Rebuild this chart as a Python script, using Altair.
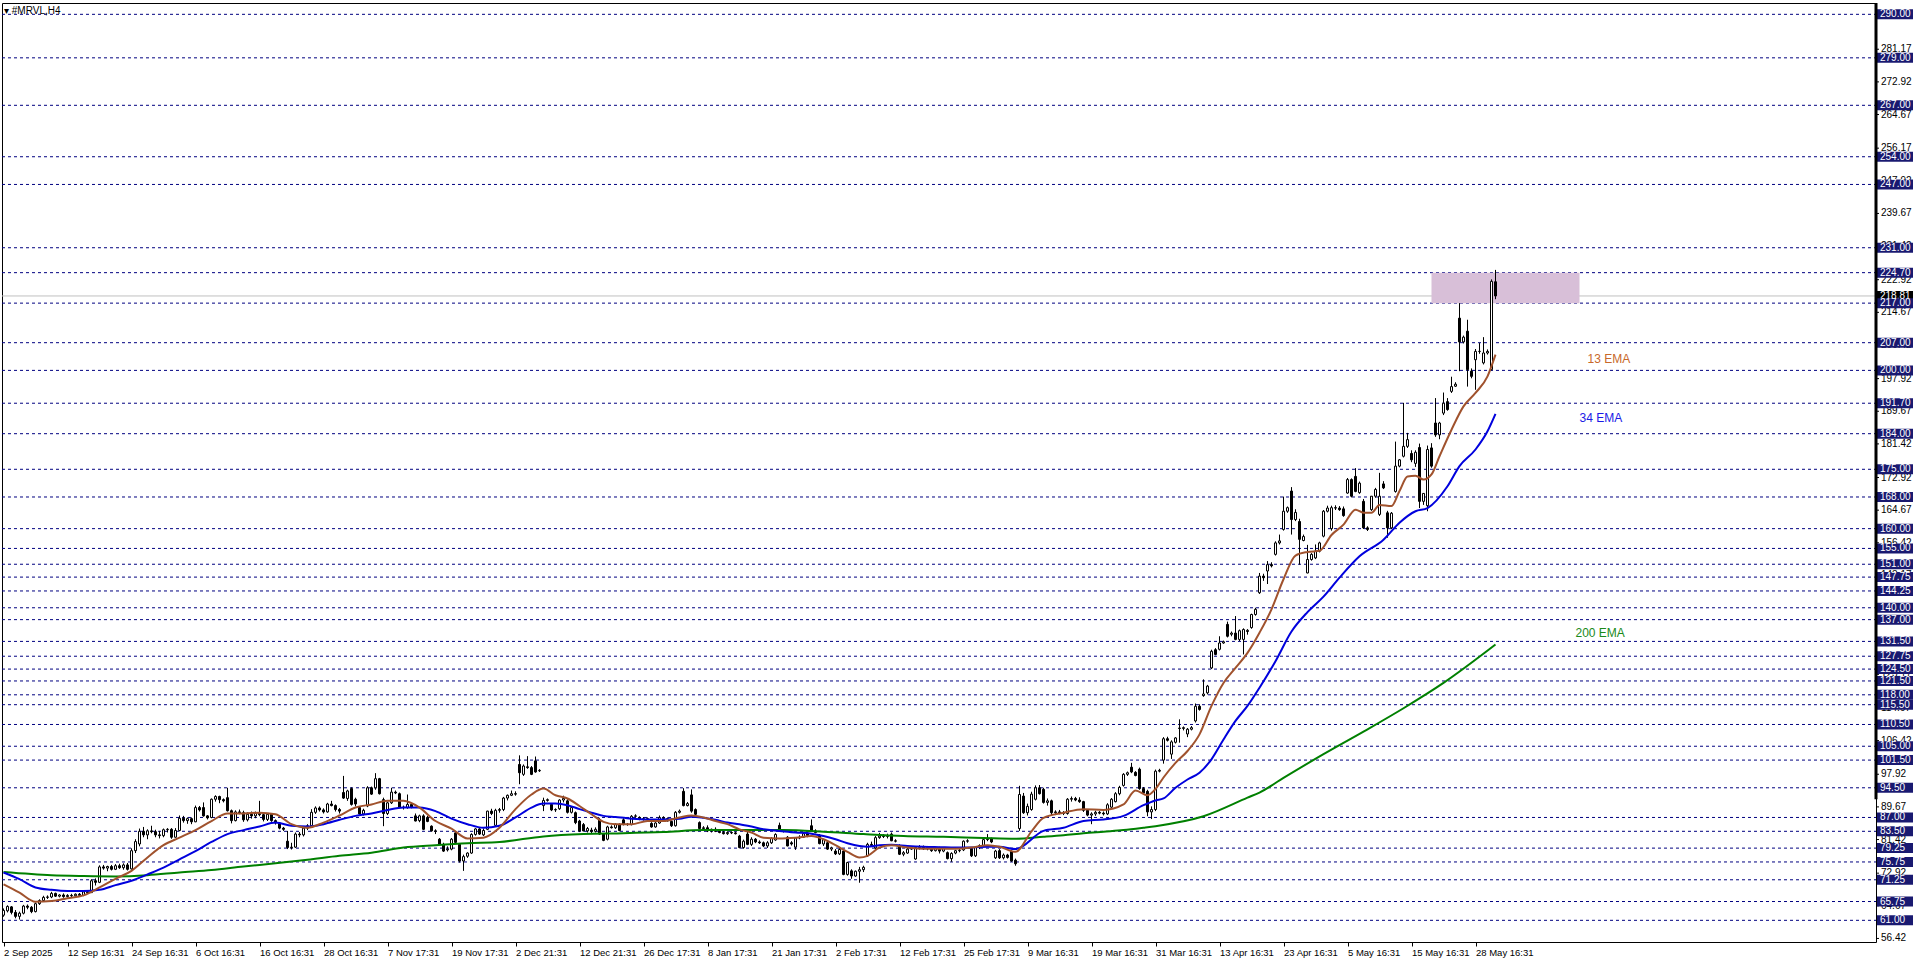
import json
import altair as alt
import pandas as pd

# ---------------- candle data (H4 bars) ----------------
opens = [
    62.3, 63.4, 64.4, 63.0, 62.0, 62.8, 64.6, 64.3, 63.2, 65.2,
    66.0, 66.8, 66.9, 67.8, 67.1, 67.4, 67.0, 67.3, 67.2, 67.6,
    67.3, 68.2, 68.0, 71.0, 70.6, 74.5, 74.2, 74.6, 73.9, 74.8,
    74.3, 75.0, 74.0, 78.6, 80.3, 83.5, 82.6, 83.6, 83.4, 82.6,
    82.4, 83.9, 84.0, 82.0, 83.7, 86.8, 86.2, 86.7, 85.9, 89.5,
    89.5, 87.4, 87.0, 91.6, 92.3, 91.5, 92.0, 88.7, 86.2, 88.4,
    88.2, 86.4, 87.8, 87.4, 88.0, 87.7, 86.5, 87.8, 86.2, 85.6,
    84.3, 81.0, 79.4, 79.5, 82.8, 82.6, 84.3, 84.9, 88.3, 89.4,
    88.9, 88.4, 90.4, 90.0, 89.0, 93.3, 91.8, 94.3, 91.6, 89.5,
    87.9, 89.9, 94.5, 94.5, 96.8, 91.5, 88.0, 90.7, 93.4, 93.0,
    89.6, 89.5, 90.3, 87.4, 86.2, 87.4, 87.0, 84.8, 83.6, 81.5,
    80.2, 78.8, 79.0, 83.1, 80.2, 76.0, 77.2, 78.0, 82.7, 84.1,
    82.6, 84.0, 88.6, 85.0, 88.8, 89.0, 91.9, 92.6, 93.0, 100.4,
    97.9, 99.8, 99.6, 101.3, 98.8, 90.0, 91.3, 90.3, 88.9, 89.2,
    91.4, 91.2, 88.3, 88.2, 86.1, 85.2, 83.6, 83.8, 83.5, 86.5,
    82.8, 81.5, 84.6, 84.4, 85.2, 86.4, 85.2, 85.2, 87.3, 87.0,
    86.5, 86.7, 85.5, 84.6, 85.6, 87.0, 86.7, 86.0, 84.9, 88.3,
    93.6, 90.0, 92.7, 89.0, 85.7, 84.2, 84.4, 83.6, 84.0, 83.5,
    83.2, 82.9, 83.2, 83.1, 82.3, 79.4, 82.8, 80.2, 81.5, 80.8,
    80.6, 79.8, 80.6, 81.3, 85.0, 83.7, 82.0, 80.6, 79.5, 81.8,
    82.0, 82.9, 84.9, 83.6, 82.5, 80.3, 80.6, 79.0, 78.5, 77.8,
    78.5, 72.6, 73.5, 72.2, 73.4, 73.8, 77.3, 80.2, 79.3, 81.9,
    82.3, 82.2, 82.8, 81.1, 79.8, 77.7, 78.0, 79.0, 76.5, 79.4,
    79.6, 79.1, 79.0, 78.6, 79.3, 78.5, 78.1, 76.6, 78.0, 78.6,
    78.8, 81.0, 79.2, 77.3, 79.4, 79.8, 81.4, 81.6, 76.8, 78.6,
    76.8, 77.5, 78.4, 76.2, 84.2, 92.4, 88.2, 89.0, 91.6, 94.5,
    94.1, 90.8, 91.2, 88.2, 88.4, 88.1, 88.0, 91.6, 91.8, 91.4,
    91.0, 88.8, 87.6, 87.9, 88.3, 88.1, 87.9, 89.6, 91.0, 93.0,
    95.1, 97.9, 99.7, 98.4, 99.2, 94.3, 93.6, 88.4, 89.0, 98.7,
    101.5, 106.9, 103.0, 106.0, 109.6, 109.5, 108.1, 109.3, 111.4, 115.1,
    117.8, 118.5, 124.8, 129.4, 129.5, 131.1, 135.8, 133.3, 133.6, 132.0,
    132.0, 134.0, 135.0, 138.3, 143.8, 148.0, 149.3, 150.9, 153.5, 156.4,
    159.8, 164.4, 169.5, 162.3, 161.8, 157.0, 148.8, 152.2, 152.6, 154.3,
    158.1, 164.4, 160.0, 165.3, 165.2, 165.0, 169.0, 172.4, 173.2, 169.1,
    166.9, 160.2, 164.8, 168.2, 163.6, 171.3, 164.0, 160.2, 169.4, 175.8,
    178.3, 180.8, 179.0, 176.5, 180.5, 166.9, 165.8, 180.4, 186.7, 183.7,
    189.2, 192.1, 194.7, 196.0, 213.2, 207.2, 209.9, 199.8, 202.7, 204.8,
    201.9, 204.4, 200.2, 222.4,
]
highs = [
    64.0, 64.8, 64.6, 63.6, 63.2, 64.9, 65.0, 64.6, 65.5, 66.3,
    67.2, 67.3, 68.2, 68.0, 67.6, 67.8, 67.6, 67.7, 67.8, 67.9,
    68.5, 68.6, 71.4, 71.6, 74.9, 75.0, 74.8, 75.0, 75.2, 75.3,
    75.4, 75.5, 79.2, 81.5, 84.2, 84.6, 84.0, 84.9, 83.9, 83.6,
    84.2, 84.3, 84.3, 84.3, 87.5, 87.4, 87.0, 87.0, 90.0, 89.9,
    90.8, 87.6, 91.8, 92.6, 92.5, 91.8, 94.5, 89.0, 88.8, 89.0,
    88.7, 88.3, 88.5, 88.5, 91.2, 88.3, 88.0, 88.0, 86.5, 85.8,
    84.6, 83.6, 80.6, 83.2, 83.3, 84.6, 85.3, 89.1, 89.8, 89.8,
    89.3, 90.7, 91.2, 90.3, 89.4, 97.5, 94.0, 94.6, 92.0, 89.8,
    89.2, 94.9, 94.8, 98.2, 97.0, 92.0, 91.0, 94.5, 93.8, 93.3,
    90.0, 92.8, 90.6, 88.0, 87.7, 87.8, 87.4, 85.0, 84.0, 81.8,
    80.6, 79.7, 81.8, 83.6, 80.5, 77.6, 78.2, 83.0, 84.3, 84.3,
    84.2, 88.7, 89.2, 89.2, 89.4, 92.2, 92.8, 93.8, 93.6, 102.7,
    100.4, 102.5, 100.0, 102.4, 99.2, 92.0, 91.8, 90.6, 89.3, 91.6,
    92.5, 91.6, 89.7, 88.5, 86.4, 85.6, 84.6, 84.4, 84.5, 86.9,
    83.0, 84.9, 85.0, 85.5, 85.5, 86.8, 85.6, 87.6, 87.8, 87.3,
    87.1, 87.0, 85.8, 85.8, 87.5, 87.3, 87.0, 86.2, 88.6, 89.0,
    94.4, 90.9, 94.1, 89.3, 86.0, 84.8, 85.0, 84.2, 84.5, 84.0,
    83.6, 83.5, 83.5, 83.4, 82.6, 81.4, 83.6, 82.0, 81.8, 81.2,
    80.9, 81.0, 82.0, 83.0, 85.7, 84.0, 82.3, 81.0, 82.0, 82.5,
    83.2, 83.0, 86.5, 84.0, 82.8, 81.6, 81.0, 79.6, 79.0, 79.3,
    78.9, 75.8, 73.9, 73.6, 74.5, 74.8, 80.6, 80.9, 82.3, 83.1,
    82.8, 82.9, 83.2, 81.5, 80.2, 78.5, 79.4, 79.5, 79.6, 80.0,
    79.9, 79.8, 79.3, 79.6, 79.6, 79.5, 78.4, 78.2, 78.8, 79.1,
    81.2, 81.5, 79.5, 79.7, 80.2, 81.6, 82.8, 81.9, 78.8, 79.0,
    77.9, 77.8, 78.7, 76.6, 95.0, 93.2, 90.5, 93.5, 95.1, 95.2,
    94.5, 91.8, 91.5, 88.8, 88.9, 88.6, 91.9, 92.3, 92.2, 92.1,
    91.2, 89.0, 88.3, 88.7, 88.6, 88.5, 90.6, 91.9, 93.4, 95.0,
    98.2, 98.6, 100.8, 98.7, 99.6, 94.7, 94.0, 89.8, 99.1, 99.3,
    107.3, 107.4, 106.5, 107.3, 111.8, 110.0, 109.6, 110.1, 115.8, 115.6,
    121.9, 120.5, 129.4, 129.8, 132.8, 131.7, 136.5, 134.0, 137.9, 134.5,
    134.8, 134.6, 138.5, 140.0, 148.8, 148.6, 151.8, 151.5, 156.8, 158.5,
    168.1, 165.6, 170.5, 164.9, 162.5, 158.5, 155.9, 153.8, 156.0, 156.7,
    164.7, 165.8, 165.8, 165.9, 165.7, 165.6, 172.8, 172.7, 175.3, 171.9,
    167.5, 160.6, 168.2, 170.3, 174.1, 172.0, 164.5, 164.2, 182.0, 177.6,
    191.8, 184.2, 179.8, 179.8, 181.5, 169.0, 181.0, 181.6, 193.0, 187.0,
    194.4, 193.0, 198.4, 197.0, 217.0, 208.8, 212.8, 200.5, 205.4, 206.9,
    208.4, 205.3, 223.0, 225.4,
]
lows = [
    61.9, 63.0, 62.5, 61.5, 61.2, 62.5, 63.8, 62.8, 63.0, 64.9,
    65.7, 66.4, 66.6, 66.9, 66.8, 66.7, 66.8, 66.9, 66.9, 67.0,
    67.1, 67.8, 67.9, 69.8, 70.4, 73.8, 73.4, 73.6, 73.7, 74.0,
    73.8, 73.6, 73.8, 78.0, 79.7, 82.0, 81.5, 83.0, 82.0, 81.7,
    82.0, 83.2, 81.6, 81.9, 83.5, 85.7, 85.4, 85.3, 85.8, 88.5,
    87.2, 86.5, 86.8, 91.0, 90.6, 90.8, 88.5, 85.5, 86.0, 87.8,
    85.9, 86.0, 86.7, 86.8, 87.3, 86.0, 86.1, 85.9, 85.2, 84.0,
    83.6, 79.0, 78.9, 79.3, 82.0, 82.2, 83.8, 84.6, 87.9, 88.5,
    88.0, 88.2, 89.8, 88.5, 88.0, 91.7, 91.2, 90.0, 89.8, 87.5,
    87.5, 89.6, 92.7, 94.0, 92.8, 84.8, 87.6, 90.4, 92.9, 89.5,
    89.0, 89.2, 89.3, 86.0, 85.8, 83.8, 85.8, 83.4, 82.8, 80.1,
    78.3, 78.4, 78.7, 80.5, 75.6, 73.5, 76.8, 77.8, 82.4, 82.6,
    82.3, 83.8, 87.6, 84.8, 88.2, 88.6, 91.3, 92.4, 92.5, 95.4,
    97.5, 99.3, 97.7, 98.3, 98.5, 88.6, 91.0, 88.6, 88.4, 88.9,
    90.8, 88.0, 88.0, 85.3, 83.3, 83.5, 83.2, 83.0, 83.2, 82.6,
    81.0, 81.2, 84.2, 84.1, 83.5, 85.0, 84.9, 85.0, 86.9, 86.3,
    86.2, 86.2, 84.4, 84.4, 85.4, 86.5, 86.0, 84.6, 84.7, 88.0,
    89.8, 89.8, 88.2, 87.6, 84.0, 83.9, 83.3, 83.2, 83.3, 83.0,
    82.7, 82.6, 82.8, 82.7, 79.2, 79.1, 80.0, 79.8, 80.5, 80.3,
    79.5, 79.3, 80.3, 81.1, 83.4, 83.2, 79.7, 79.9, 78.8, 81.5,
    81.8, 82.0, 83.4, 83.0, 80.2, 79.8, 78.8, 78.5, 77.5, 77.5,
    72.4, 72.3, 71.5, 72.0, 70.5, 73.2, 77.0, 79.6, 79.0, 81.6,
    81.8, 81.7, 81.0, 80.7, 77.5, 77.2, 77.8, 78.8, 76.3, 78.9,
    78.8, 78.7, 78.3, 78.4, 77.9, 78.2, 76.4, 75.8, 77.7, 78.2,
    78.5, 80.6, 77.0, 77.0, 79.0, 79.5, 81.0, 80.5, 76.5, 76.5,
    76.4, 76.6, 75.8, 74.8, 83.6, 87.9, 87.5, 88.7, 91.3, 92.8,
    90.5, 90.0, 87.6, 87.6, 87.8, 87.6, 87.7, 91.0, 91.1, 90.7,
    88.4, 87.3, 85.3, 87.4, 87.8, 87.5, 87.6, 89.4, 90.8, 92.6,
    94.8, 97.5, 98.2, 97.4, 94.0, 92.9, 87.3, 86.6, 88.6, 98.4,
    100.6, 106.2, 101.8, 105.7, 105.9, 109.0, 107.3, 109.0, 111.0, 114.0,
    117.5, 118.1, 124.5, 128.0, 129.2, 130.9, 132.5, 132.8, 131.8, 131.6,
    128.2, 133.2, 134.7, 138.0, 143.5, 146.8, 146.0, 150.2, 153.2, 156.0,
    159.5, 164.0, 158.5, 161.9, 150.9, 156.8, 148.7, 151.9, 152.3, 154.0,
    157.8, 164.1, 159.5, 164.7, 164.5, 163.0, 168.8, 167.9, 169.2, 168.8,
    159.9, 159.4, 164.5, 167.8, 163.2, 170.0, 157.7, 159.9, 169.1, 175.5,
    178.0, 180.4, 176.8, 175.6, 165.2, 166.0, 164.4, 175.4, 183.2, 182.6,
    188.7, 189.8, 194.3, 195.8, 199.8, 206.8, 195.9, 198.0, 195.1, 204.2,
    201.5, 204.0, 200.0, 218.0,
]
closes = [
    63.5, 64.5, 63.0, 62.0, 62.8, 64.6, 64.3, 63.2, 65.2, 66.0,
    66.8, 66.9, 67.8, 67.1, 67.4, 67.0, 67.3, 67.2, 67.6, 67.3,
    68.2, 68.0, 71.0, 70.6, 74.5, 74.2, 74.6, 73.9, 74.8, 74.3,
    75.0, 73.9, 78.6, 80.9, 83.5, 82.6, 83.6, 83.4, 82.6, 82.4,
    83.9, 84.0, 82.0, 83.7, 86.8, 86.2, 86.7, 85.9, 89.5, 88.9,
    87.4, 86.9, 91.6, 92.3, 91.5, 91.2, 88.7, 86.2, 88.4, 88.2,
    86.4, 87.8, 87.4, 88.0, 87.7, 86.5, 87.8, 86.2, 85.6, 84.3,
    84.0, 79.4, 79.5, 82.8, 82.6, 84.3, 84.9, 88.3, 89.4, 88.9,
    88.4, 90.4, 90.0, 89.0, 88.6, 91.9, 93.7, 90.3, 90.4, 87.9,
    88.8, 94.5, 92.9, 96.8, 93.0, 88.0, 90.7, 93.4, 93.2, 89.6,
    89.5, 90.3, 89.6, 86.1, 87.4, 84.0, 86.0, 83.6, 83.5, 80.2,
    78.5, 79.0, 81.5, 80.7, 76.0, 77.1, 78.0, 82.7, 84.1, 82.8,
    83.7, 88.6, 88.0, 88.8, 89.0, 91.9, 92.6, 93.0, 92.9, 98.3,
    100.0, 99.6, 97.9, 98.5, 98.9, 91.3, 91.5, 88.9, 89.0, 91.4,
    91.8, 88.3, 89.5, 85.7, 83.6, 83.6, 84.2, 83.5, 84.0, 82.8,
    81.2, 84.6, 84.4, 85.3, 83.7, 85.2, 85.3, 87.3, 87.4, 86.5,
    86.7, 86.4, 84.6, 85.6, 87.0, 86.7, 86.1, 84.9, 88.3, 88.6,
    90.0, 90.5, 88.6, 87.8, 84.2, 84.4, 83.6, 84.0, 83.5, 83.2,
    82.9, 83.2, 83.1, 82.9, 79.4, 81.0, 80.2, 81.5, 80.8, 80.6,
    79.8, 80.6, 81.7, 82.7, 83.7, 83.5, 79.8, 80.3, 81.8, 82.0,
    82.9, 82.4, 83.6, 83.2, 80.4, 81.4, 79.0, 79.3, 77.8, 78.9,
    72.6, 75.6, 72.2, 73.4, 73.8, 74.4, 80.2, 79.9, 81.9, 82.3,
    82.2, 82.4, 81.1, 81.0, 77.7, 78.1, 79.0, 79.2, 79.4, 79.6,
    79.1, 79.4, 78.6, 79.3, 78.5, 79.2, 76.6, 77.9, 78.6, 78.7,
    81.0, 81.1, 77.3, 79.4, 79.9, 81.4, 81.6, 80.8, 78.5, 76.8,
    77.5, 76.9, 76.0, 75.3, 92.8, 88.2, 89.8, 92.9, 94.5, 93.0,
    90.8, 91.2, 88.2, 88.4, 88.1, 88.0, 91.6, 91.8, 91.4, 91.0,
    88.8, 87.6, 87.9, 88.3, 88.1, 87.9, 90.2, 91.6, 93.0, 94.6,
    97.9, 98.3, 98.5, 97.6, 94.3, 93.2, 88.4, 89.0, 98.7, 98.9,
    106.9, 106.5, 106.1, 107.1, 109.5, 109.7, 109.3, 109.7, 115.1, 114.3,
    118.2, 120.2, 129.0, 128.2, 131.1, 131.4, 132.8, 133.6, 132.0, 134.2,
    134.5, 134.3, 138.3, 139.6, 148.0, 147.6, 150.9, 150.6, 156.4, 156.9,
    164.4, 165.3, 162.3, 164.1, 157.3, 158.0, 152.2, 153.5, 154.3, 156.4,
    164.4, 165.2, 165.3, 165.2, 164.8, 163.3, 172.4, 168.2, 169.4, 171.5,
    160.2, 159.8, 168.2, 169.9, 168.2, 170.3, 160.2, 163.9, 175.8, 177.4,
    180.8, 182.5, 177.4, 179.3, 166.9, 168.9, 180.0, 175.8, 183.7, 186.7,
    191.7, 190.1, 195.9, 196.5, 207.2, 208.4, 200.2, 198.5, 204.8, 204.8,
    204.4, 204.8, 222.5, 218.81,
]

# ---------------- moving averages ----------------
ema13_idx = [0, 4, 8, 12, 16, 20, 24, 28, 32, 36, 40, 44, 48, 52, 56, 60, 64, 68, 72, 76,
             80, 84, 88, 92, 96, 100, 104, 108, 112, 116, 120, 124,
             128, 132, 135, 138, 141, 144, 147, 150, 153, 157, 161, 165, 169, 172, 175, 178,
             181, 184, 187, 190, 194, 198, 202, 205, 208, 211, 214, 216, 219, 222, 226, 230,
             234, 238, 242, 246, 249,
             253, 257, 260, 265, 270, 275, 280, 283, 286, 288, 290, 293, 296, 299, 302, 305,
             308, 311, 314, 317, 320, 323, 326, 329, 332, 335, 338, 340, 342, 344, 347, 349,
             351, 353, 355, 357, 359, 362, 365, 368, 371, 373]
ema13_val = [70.1, 68.0, 65.7, 65.9, 66.6, 67.3, 69.3, 71.5, 73.5, 76.9, 80.0, 81.9, 83.8, 86.1,
             88.0, 88.0, 88.2, 87.8, 85.3, 84.4, 85.7, 87.5, 89.5, 90.3, 91.2, 91.2, 89.5, 86.1,
             84.2, 81.7, 81.9, 84.4,
             89.1, 92.8, 94.3, 92.6, 91.8, 89.9, 87.8, 85.9, 85.3, 85.3, 86.1, 86.1, 87.0, 87.5,
             87.0, 86.1, 85.3, 84.0, 83.2, 81.9, 81.7, 81.9, 82.3, 81.5, 80.0, 78.3, 76.9, 77.3,
             79.4, 80.0, 79.4, 79.1, 79.1, 79.1, 79.4, 80.0, 79.6,
             78.3, 83.5, 86.9, 88.2, 89.1, 88.9, 90.3, 93.8, 92.6, 94.2, 97.1, 100.8, 103.8,
             108.0, 115.2, 121.0, 124.8, 128.6, 133.7, 139.6, 147.2, 153.2, 154.1, 154.4, 158.4,
             161.0, 164.8, 164.0, 164.0, 166.0, 165.7, 169.5, 173.2, 173.4, 172.4, 173.7, 178.3,
             185.0, 190.9, 194.3, 198.5, 204.0]

ema34_idx = [0, 4, 8, 12, 16, 20, 24, 28, 32, 36, 40, 44, 48, 52, 56, 60, 64, 68, 72, 76,
             80, 84, 88, 92, 96, 100, 104, 108, 112, 116, 120, 124,
             128, 132, 135, 138, 141, 144, 147, 150, 153, 157, 161, 165, 169, 172, 175, 178,
             181, 184, 187, 190, 194, 198, 202, 205, 208, 211, 214, 216, 219, 222, 226, 230,
             234, 238, 242, 246, 249,
             253, 260, 265, 270, 275, 280, 285, 288, 290, 293, 296, 299, 302, 305, 308, 311,
             314, 318, 322, 326, 330, 334, 339, 345, 349, 353, 356, 361, 364, 368, 371, 373]
ema34_val = [73.1, 71.4, 69.3, 68.7, 68.4, 68.4, 68.7, 69.9, 71.0, 72.6, 74.3, 76.4, 78.5, 80.8,
             82.8, 83.8, 84.7, 85.7, 84.9, 84.7, 85.3, 86.4, 87.4, 88.0, 88.9, 89.5, 89.5, 88.6,
             86.7, 85.3, 84.4, 84.9,
             87.0, 89.5, 90.5, 90.5, 90.1, 89.1, 88.2, 87.4, 87.1, 86.7, 86.5, 86.5, 86.7, 87.2,
             86.9, 86.4, 85.7, 85.3, 84.7, 84.0, 83.6, 83.2, 82.9, 82.3, 81.5, 80.5, 79.8, 79.6,
             80.0, 80.1, 79.8, 79.6, 79.5, 79.4, 79.4, 79.6, 79.6,
             79.0, 83.6, 84.4, 86.1, 86.5, 87.4, 90.1, 91.3, 91.8, 94.5, 96.6, 98.3, 101.7,
             106.7, 111.4, 115.2, 119.8, 126.5, 134.0, 138.9, 142.8, 147.6, 153.0, 157.2, 161.5,
             164.4, 165.2, 170.7, 175.8, 180.0, 184.6, 189.0]

ema200_idx = [0, 12, 20, 28, 36, 44, 52, 60, 68, 76, 84, 92, 100, 108, 116, 124, 135, 145, 155,
              165, 175, 185, 195, 205, 215, 225, 235, 245, 253, 260, 265, 270, 275, 280, 285,
              288, 300, 311, 314, 320, 330, 340, 350, 360, 373]
ema200_val = [73.2, 72.4, 72.2, 72.1, 72.4, 73.1, 73.7, 74.6, 75.4, 76.3, 77.3, 78.1, 79.4, 80.0,
              80.5, 80.8, 82.2, 82.8, 83.0, 83.3, 83.8, 83.8, 83.8, 83.4, 82.8, 82.3, 82.1, 81.8,
              81.6, 82.1, 82.5, 83.0, 83.4, 83.8, 84.4, 84.8, 87.3, 92.0, 93.3, 97.0, 103.0,
              108.7, 114.6, 121.0, 130.7]

# ---------------- levels, labels, annotations ----------------
level_prices = [290.00, 279.00, 267.00, 254.00, 247.00, 231.00, 224.70, 217.00, 207.00, 200.00,
                191.70, 184.00, 175.00, 168.00, 160.00, 155.00, 151.00, 147.75, 144.25, 140.00,
                137.00, 131.50, 127.75, 124.50, 121.50, 118.00, 115.50, 110.50, 105.00, 101.50,
                94.50, 87.00, 83.50, 79.25, 75.75, 71.25, 65.75, 61.00]
axis_ticks = [281.17, 272.92, 264.67, 256.17, 247.92, 239.67, 231.42, 222.92, 214.67, 206.42,
              197.92, 189.67, 181.42, 172.92, 164.67, 156.42, 148.17, 139.67, 131.42, 123.17,
              114.67, 106.42, 97.92, 89.67, 81.42, 72.92, 64.67, 56.42]
current_price = 218.81
date_labels = ["2 Sep 2025", "12 Sep 16:31", "24 Sep 16:31", "6 Oct 16:31", "16 Oct 16:31",
               "28 Oct 16:31", "7 Nov 17:31", "19 Nov 17:31", "2 Dec 21:31", "12 Dec 21:31",
               "26 Dec 17:31", "8 Jan 17:31", "21 Jan 17:31", "2 Feb 17:31", "12 Feb 17:31",
               "25 Feb 17:31", "9 Mar 16:31", "19 Mar 16:31", "31 Mar 16:31", "13 Apr 16:31",
               "23 Apr 16:31", "5 May 16:31", "15 May 16:31", "28 May 16:31"]
bars_per_label = 16
zone_bars = [357, 394]
zone_prices = [217.0, 224.7]
ema_labels = ["13 EMA", "34 EMA", "200 EMA"]
ema_label_bar = [396, 394, 393]
ema_label_price = [202.9, 188.0, 133.7]
ema_label_color = ["#c8682a", "#1a1ae6", "#1a8a1a"]
title_text = "\u25be #MRVL,H4"

FONT = "Liberation Sans"
W, H = 1874, 939
xs = alt.Scale(domain=[-0.375, 468.125], nice=False, zero=False)
ys = alt.Scale(domain=[55.52, 292.86], nice=False, zero=False)

df = pd.DataFrame({"i": list(range(len(closes))), "o": opens, "h": highs, "l": lows, "c": closes})
df["bull"] = df["c"] >= df["o"]
df["bt"] = df[["o", "c"]].max(axis=1)
df["bb"] = df[["o", "c"]].min(axis=1)
df["h"] = df[["h", "bt"]].max(axis=1)
df["l"] = df[["l", "bb"]].min(axis=1)

tick_idx = [bars_per_label * k for k in range(len(date_labels))]
label_expr = json.dumps(date_labels) + "[round(datum.value/" + str(bars_per_label) + ")]"

XA = alt.Axis(values=tick_idx, labelExpr=label_expr, tickSize=4, tickColor="black",
              labelAlign="left", labelBaseline="top", labelPadding=1,
              labelFont=FONT, labelFontSize=9.5, labelColor="black", domain=False,
              grid=False, title=None, labelOverlap=False, labelFlush=False, labelBound=False)


def X(field):
    return alt.X(field, scale=xs, axis=XA)


def Y(field):
    return alt.Y(field, scale=ys, axis=None)


lvl = pd.DataFrame({"p": level_prices, "lab": ["%.2f" % v for v in level_prices]})
cur = pd.DataFrame({"p": [current_price], "lab": ["%.2f" % current_price]})
ticks = pd.DataFrame({"p": axis_ticks, "lab": ["%.2f" % v for v in axis_ticks]})

level_lines = alt.Chart(lvl).mark_rule(color="#000080", strokeDash=[3, 3], strokeWidth=1).encode(
    y=Y("p:Q"), x=alt.value(0), x2=alt.value(W))

cur_line = alt.Chart(cur).mark_rule(color="#c0c0c0", strokeWidth=1).encode(
    y=Y("p:Q"), x=alt.value(0), x2=alt.value(W))

zone = alt.Chart(pd.DataFrame({"x1": [zone_bars[0]], "x2": [zone_bars[1]],
                               "y1": [zone_prices[0]], "y2": [zone_prices[1]]})).mark_rect(
    color="#d8bfd8").encode(x=X("x1:Q"), x2="x2:Q", y=Y("y1:Q"), y2="y2:Q")

wicks = alt.Chart(df).mark_rule(color="black", strokeWidth=1).encode(
    x=X("i:Q"), y=Y("l:Q"), y2="h:Q")

bodies = alt.Chart(df).transform_calculate(
    xl="datum.i - 0.25", xr="datum.i + 0.25").mark_rect(stroke="black", strokeWidth=1).encode(
    x=X("xl:Q"), x2="xr:Q", y=Y("bb:Q"), y2="bt:Q",
    fill=alt.condition("datum.bull", alt.value("white"), alt.value("black")))


def ema_layer(ix, vals, color):
    d = pd.DataFrame({"i": ix, "v": vals})
    return alt.Chart(d).mark_line(color=color, strokeWidth=2, interpolate="monotone").encode(
        x=X("i:Q"), y=Y("v:Q"))


e200 = ema_layer(ema200_idx, ema200_val, "#008000")
e34 = ema_layer(ema34_idx, ema34_val, "#0000dd")
e13 = ema_layer(ema13_idx, ema13_val, "#a0522d")

lab_df = pd.DataFrame({"t": ema_labels, "i": ema_label_bar, "p": ema_label_price,
                       "col": ema_label_color})
ema_text = alt.Chart(lab_df).mark_text(align="left", baseline="middle", font=FONT,
                                       fontSize=12).encode(
    x=X("i:Q"), y=Y("p:Q"), text="t:N", color=alt.Color("col:N", scale=None, legend=None))

# right price scale: plain labels first, highlighted level boxes drawn over them
tick_marks = alt.Chart(ticks).mark_rule(color="black", strokeWidth=1).encode(
    y=Y("p:Q"), x=alt.value(W), x2=alt.value(W + 3))
tick_txt = alt.Chart(ticks).mark_text(align="left", baseline="middle", color="black", font=FONT,
                                      fontSize=10).encode(
    y=Y("p:Q"), x=alt.value(W + 5), text="lab:N")

cur_box = alt.Chart(cur).mark_rule(color="black", strokeWidth=10).encode(
    y=Y("p:Q"), x=alt.value(W + 1), x2=alt.value(W + 37))
cur_txt = alt.Chart(cur).mark_text(align="left", baseline="middle", color="white", font=FONT,
                                   fontSize=10).encode(
    y=Y("p:Q"), x=alt.value(W + 4), text="lab:N")

lvl_box = alt.Chart(lvl).mark_rule(color="#191970", strokeWidth=10).encode(
    y=Y("p:Q"), x=alt.value(W + 1), x2=alt.value(W + 37))
lvl_txt = alt.Chart(lvl).mark_text(align="left", baseline="middle", color="white", font=FONT,
                                   fontSize=10).encode(
    y=Y("p:Q"), x=alt.value(W + 4), text="lab:N")

edge = alt.Chart(pd.DataFrame({"top": [292.86], "bottom": [91.6]})).mark_rule(
    color="black", strokeWidth=3).encode(y=Y("top:Q"), y2="bottom:Q", x=alt.value(W))

title = alt.Chart(pd.DataFrame({"t": [title_text]})).mark_text(
    align="left", baseline="middle", font=FONT, fontSize=10, color="black").encode(
    x=alt.value(2), y=alt.value(8), text="t:N")

chart = alt.layer(
    level_lines, cur_line, zone, wicks, bodies, e200, e34, e13, ema_text,
    tick_marks, tick_txt, cur_box, cur_txt, lvl_box, lvl_txt, edge, title
).properties(
    width=W, height=H,
    padding={"left": 2, "top": 3, "right": 40, "bottom": 21},
    autosize=alt.AutoSizeParams(type="none"),
    background="white",
).configure_view(stroke="black", strokeWidth=1)

chart.save("out.html", embed_options={"renderer": "svg", "actions": False})
